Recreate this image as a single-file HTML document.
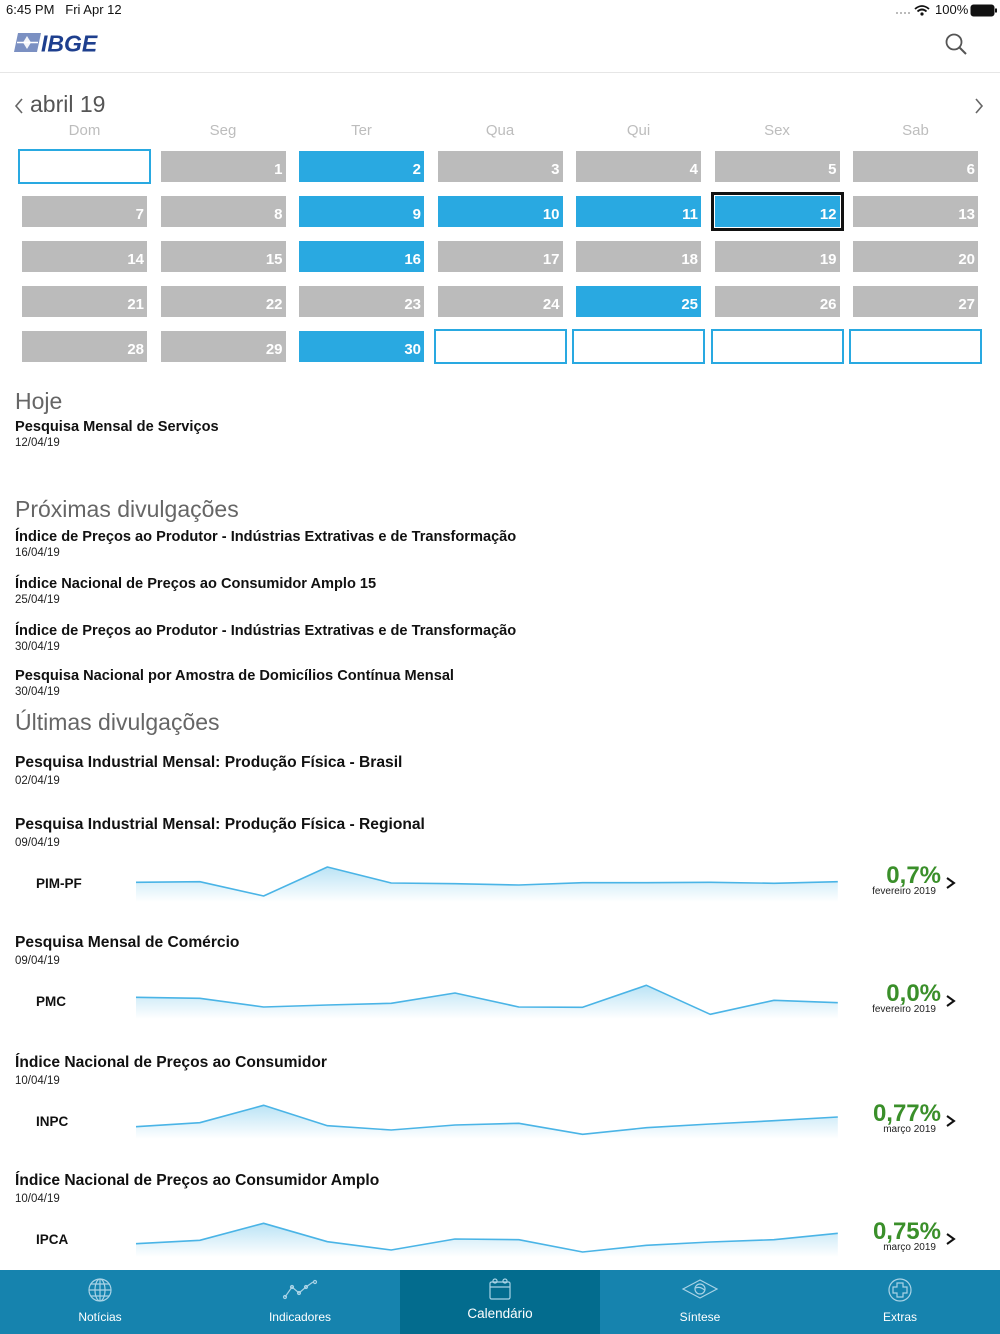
<!DOCTYPE html>
<html>
<head>
<meta charset="utf-8">
<style>
*{margin:0;padding:0;box-sizing:border-box;}
html,body{width:1000px;height:1334px;overflow:hidden;background:#fff;font-family:"Liberation Sans",Arial,sans-serif;}
.a{position:absolute;white-space:nowrap;}
.cell{position:absolute;width:125px;height:31px;background:#bbbbbb;color:#fff;font-weight:bold;font-size:15px;line-height:15px;display:flex;align-items:flex-end;justify-content:flex-end;padding:0 3px 5px 0;}
.cell.b{background:#29a9e1;}
.out{position:absolute;width:133px;height:35px;border:2px solid #29a9e1;background:#fff;}
.dn{position:absolute;width:125px;text-align:center;font-size:15px;line-height:15px;color:#bdbdbd;top:123px;}
.h{font-size:23px;line-height:23px;color:#666;left:15px;}
.t1{font-size:14.6px;line-height:15px;font-weight:bold;color:#111;left:15px;}
.t2{font-size:15.6px;line-height:16px;font-weight:bold;color:#111;left:15px;}
.d{font-size:11.5px;line-height:12px;color:#222;left:15px;}
.lbl{font-size:13.5px;line-height:14px;font-weight:bold;color:#111;left:36px;}
.val{font-size:24px;line-height:24px;font-weight:bold;color:#3a8f2a;right:59px;text-align:right;}
.sub{font-size:10px;line-height:10px;color:#222;right:64px;text-align:right;}
.tab{position:absolute;top:1270px;width:200px;height:64px;}
.tl{position:absolute;width:200px;text-align:center;color:#fff;font-size:12px;line-height:12px;top:41px;left:0;}
</style>
</head>
<body>
<!-- status bar -->
<div class="a" style="left:6px;top:3px;font-size:13px;line-height:14px;color:#111;">6:45 PM&nbsp;&nbsp;&nbsp;Fri Apr 12</div>
<div class="a" style="left:935px;top:3px;font-size:13px;line-height:14px;color:#111;">100%</div>
<svg class="a" style="left:890px;top:2px;" width="110" height="18" viewBox="890 2 110 18">
  <g fill="#bbb"><rect x="896" y="12" width="2" height="2"/><rect x="900" y="12" width="2" height="2"/><rect x="904" y="12" width="2" height="2"/><rect x="908" y="12" width="2" height="2"/></g>
  <path d="M915 9 Q922 3 929 9" stroke="#111" stroke-width="1.8" fill="none"/>
  <path d="M917.5 11.5 Q922 7.5 926.5 11.5" stroke="#111" stroke-width="1.8" fill="none"/>
  <circle cx="922" cy="14" r="1.6" fill="#111"/>
  <rect x="971" y="5" width="23" height="11" rx="2.5" fill="#111" stroke="#111" stroke-width="1"/>
  <rect x="995" y="8.5" width="2" height="4" fill="#111"/>
</svg>
<!-- logo -->
<svg class="a" style="left:12px;top:30px;" width="100" height="26" viewBox="12 30 100 26">
  <path d="M18 33 L41 33 L37 52 L14 52 Z" fill="#7b90c2"/>
  <path d="M27 36 L31 42.5 L27 49 L23 42.5 Z" fill="#fff" opacity="0.9"/>
  <path d="M17 42.5 L38 42.5" stroke="#fff" stroke-width="1.5"/>
  <text x="41" y="51.5" font-family="Liberation Sans, Arial, sans-serif" font-size="23" font-weight="bold" font-style="italic" fill="#1e3f8e">IBGE</text>
</svg>
<!-- search -->
<svg class="a" style="left:940px;top:30px;" width="32" height="30" viewBox="940 30 32 30">
  <circle cx="954" cy="42" r="7.5" stroke="#555" stroke-width="1.8" fill="none"/>
  <line x1="959.5" y1="47.5" x2="966" y2="54" stroke="#555" stroke-width="2"/>
</svg>
<div class="a" style="left:0;top:72px;width:1000px;height:1px;background:#e6e6e6;"></div>

<!-- month -->
<svg class="a" style="left:12px;top:96px;" width="14" height="20"><polyline points="10,3 4,10 10,17" stroke="#666" stroke-width="1.6" fill="none"/></svg>
<div class="a" style="left:30px;top:93px;font-size:23px;line-height:23px;color:#555;">abril 19</div>
<svg class="a" style="left:972px;top:96px;" width="14" height="20"><polyline points="4,3 10,10 4,17" stroke="#666" stroke-width="1.6" fill="none"/></svg>

<div class="dn" style="left:22px;">Dom</div>
<div class="dn" style="left:160.5px;">Seg</div>
<div class="dn" style="left:299px;">Ter</div>
<div class="dn" style="left:437.5px;">Qua</div>
<div class="dn" style="left:576px;">Qui</div>
<div class="dn" style="left:714.5px;">Sex</div>
<div class="dn" style="left:853px;">Sab</div>

<!-- row 1 -->
<div class="out" style="left:18px;top:149px;"></div>
<div class="cell" style="left:160.5px;top:151px;">1</div>
<div class="cell b" style="left:299px;top:151px;">2</div>
<div class="cell" style="left:437.5px;top:151px;">3</div>
<div class="cell" style="left:576px;top:151px;">4</div>
<div class="cell" style="left:714.5px;top:151px;">5</div>
<div class="cell" style="left:853px;top:151px;">6</div>
<!-- row 2 -->
<div class="cell" style="left:22px;top:196px;">7</div>
<div class="cell" style="left:160.5px;top:196px;">8</div>
<div class="cell b" style="left:299px;top:196px;">9</div>
<div class="cell b" style="left:437.5px;top:196px;">10</div>
<div class="cell b" style="left:576px;top:196px;">11</div>
<div class="a" style="left:711px;top:192px;width:133px;height:39px;border:3px solid #111;background:#fff;"></div>
<div class="cell b" style="left:714.5px;top:196px;">12</div>
<div class="cell" style="left:853px;top:196px;">13</div>
<!-- row 3 -->
<div class="cell" style="left:22px;top:241px;">14</div>
<div class="cell" style="left:160.5px;top:241px;">15</div>
<div class="cell b" style="left:299px;top:241px;">16</div>
<div class="cell" style="left:437.5px;top:241px;">17</div>
<div class="cell" style="left:576px;top:241px;">18</div>
<div class="cell" style="left:714.5px;top:241px;">19</div>
<div class="cell" style="left:853px;top:241px;">20</div>
<!-- row 4 -->
<div class="cell" style="left:22px;top:286px;">21</div>
<div class="cell" style="left:160.5px;top:286px;">22</div>
<div class="cell" style="left:299px;top:286px;">23</div>
<div class="cell" style="left:437.5px;top:286px;">24</div>
<div class="cell b" style="left:576px;top:286px;">25</div>
<div class="cell" style="left:714.5px;top:286px;">26</div>
<div class="cell" style="left:853px;top:286px;">27</div>
<!-- row 5 -->
<div class="cell" style="left:22px;top:331px;">28</div>
<div class="cell" style="left:160.5px;top:331px;">29</div>
<div class="cell b" style="left:299px;top:331px;">30</div>
<div class="out" style="left:433.5px;top:329px;"></div>
<div class="out" style="left:572px;top:329px;"></div>
<div class="out" style="left:710.5px;top:329px;"></div>
<div class="out" style="left:849px;top:329px;"></div>

<!-- Hoje -->
<div class="a h" style="top:389.5px;">Hoje</div>
<div class="a t1" style="top:419.5px;">Pesquisa Mensal de Serviços</div>
<div class="a d" style="top:437px;">12/04/19</div>

<div class="a h" style="top:497.5px;">Próximas divulgações</div>
<div class="a t1" style="top:529.5px;">Índice de Preços ao Produtor - Indústrias Extrativas e de Transformação</div>
<div class="a d" style="top:547px;">16/04/19</div>
<div class="a t1" style="top:576.5px;">Índice Nacional de Preços ao Consumidor Amplo 15</div>
<div class="a d" style="top:594px;">25/04/19</div>
<div class="a t1" style="top:623.5px;">Índice de Preços ao Produtor - Indústrias Extrativas e de Transformação</div>
<div class="a d" style="top:641px;">30/04/19</div>
<div class="a t1" style="top:668.5px;">Pesquisa Nacional por Amostra de Domicílios Contínua Mensal</div>
<div class="a d" style="top:686px;">30/04/19</div>

<div class="a h" style="top:711px;">Últimas divulgações</div>
<div class="a t2" style="top:755px;">Pesquisa Industrial Mensal: Produção Física - Brasil</div>
<div class="a d" style="top:775px;">02/04/19</div>
<div class="a t2" style="top:817px;">Pesquisa Industrial Mensal: Produção Física - Regional</div>
<div class="a d" style="top:837px;">09/04/19</div>
<div class="a lbl" style="top:877px;">PIM-PF</div>
<div class="a val" style="top:864px;">0,7%</div>
<div class="a sub" style="top:887px;">fevereiro 2019</div>

<div class="a t2" style="top:935px;">Pesquisa Mensal de Comércio</div>
<div class="a d" style="top:955px;">09/04/19</div>
<div class="a lbl" style="top:995px;">PMC</div>
<div class="a val" style="top:982px;">0,0%</div>
<div class="a sub" style="top:1005px;">fevereiro 2019</div>

<div class="a t2" style="top:1055px;">Índice Nacional de Preços ao Consumidor</div>
<div class="a d" style="top:1075px;">10/04/19</div>
<div class="a lbl" style="top:1115px;">INPC</div>
<div class="a val" style="top:1102px;">0,77%</div>
<div class="a sub" style="top:1125px;">março 2019</div>

<div class="a t2" style="top:1173px;">Índice Nacional de Preços ao Consumidor Amplo</div>
<div class="a d" style="top:1193px;">10/04/19</div>
<div class="a lbl" style="top:1233px;">IPCA</div>
<div class="a val" style="top:1220px;">0,75%</div>
<div class="a sub" style="top:1243px;">março 2019</div>

<!-- sparklines -->
<svg class="a" style="left:0;top:850px;" width="1000" height="420" viewBox="0 850 1000 420">
  <defs>
    <linearGradient id="g" x1="0" y1="0" x2="0" y2="1">
      <stop offset="0" stop-color="#29a8e0" stop-opacity="0.32"/>
      <stop offset="1" stop-color="#29a8e0" stop-opacity="0"/>
    </linearGradient>
  </defs>
  <g fill="url(#g)">
    <polygon points="136,882.3 199.8,881.7 263.6,896 327.4,867 391.2,883 455,883.7 518.8,885 582.6,882.7 646.4,882.7 710.2,882.3 774,883.3 837.8,881.7 837.8,902 136,902"/>
    <polygon points="136,997.3 199.8,998.3 263.6,1007 327.4,1005 391.2,1003.3 455,993 518.8,1007 582.6,1007.3 646.4,985.3 710.2,1014.3 774,1000.3 837.8,1002.7 837.8,1019 136,1019"/>
    <polygon points="136,1126.7 199.8,1122.7 263.6,1105.3 327.4,1125.7 391.2,1130 455,1125 518.8,1123.3 582.6,1134.3 646.4,1127.7 710.2,1124 774,1120.7 837.8,1117 837.8,1139 136,1139"/>
    <polygon points="136,1243.7 199.8,1240.3 263.6,1223.3 327.4,1241.7 391.2,1250 455,1239 518.8,1239.7 582.6,1252 646.4,1245.3 710.2,1242 774,1239.7 837.8,1233.3 837.8,1257 136,1257"/>
  </g>
  <g fill="none" stroke="#4ab4e6" stroke-width="1.6" stroke-linejoin="round">
    <polyline points="136,882.3 199.8,881.7 263.6,896 327.4,867 391.2,883 455,883.7 518.8,885 582.6,882.7 646.4,882.7 710.2,882.3 774,883.3 837.8,881.7"/>
    <polyline points="136,997.3 199.8,998.3 263.6,1007 327.4,1005 391.2,1003.3 455,993 518.8,1007 582.6,1007.3 646.4,985.3 710.2,1014.3 774,1000.3 837.8,1002.7"/>
    <polyline points="136,1126.7 199.8,1122.7 263.6,1105.3 327.4,1125.7 391.2,1130 455,1125 518.8,1123.3 582.6,1134.3 646.4,1127.7 710.2,1124 774,1120.7 837.8,1117"/>
    <polyline points="136,1243.7 199.8,1240.3 263.6,1223.3 327.4,1241.7 391.2,1250 455,1239 518.8,1239.7 582.6,1252 646.4,1245.3 710.2,1242 774,1239.7 837.8,1233.3"/>
  </g>
  <g fill="none" stroke="#111" stroke-width="2">
    <polyline points="947,878 954,883 947,888"/>
    <polyline points="947,996 954,1001 947,1006"/>
    <polyline points="947,1116 954,1121 947,1126"/>
    <polyline points="947,1234 954,1239 947,1244"/>
  </g>
</svg>

<!-- tab bar -->
<div class="a" style="left:0;top:1270px;width:1000px;height:64px;background:#1683ae;"></div>
<div class="tab" style="left:400px;background:#036c8e;"></div>
<div class="tab" style="left:0;"><div class="tl">Notícias</div></div>
<div class="tab" style="left:200px;"><div class="tl">Indicadores</div></div>
<div class="tab" style="left:400px;"><div class="tl" style="font-size:13.5px;line-height:14px;top:37px;">Calendário</div></div>
<div class="tab" style="left:600px;"><div class="tl">Síntese</div></div>
<div class="tab" style="left:800px;"><div class="tl">Extras</div></div>
<svg class="a" style="left:0;top:1270px;" width="1000" height="40" viewBox="0 1270 1000 40">
  <g fill="none" stroke="#a9d3e6" stroke-width="1.2">
    <circle cx="100" cy="1290" r="11"/>
    <ellipse cx="100" cy="1290" rx="5" ry="11"/>
    <line x1="89" y1="1290" x2="111" y2="1290"/>
    <line x1="91" y1="1284" x2="109" y2="1284"/>
    <line x1="91" y1="1296" x2="109" y2="1296"/>
    <line x1="100" y1="1279" x2="100" y2="1301"/>
    <polyline points="285,1297 292,1287 299,1293 306,1287 313,1282"/>
    <circle cx="285" cy="1297" r="1.5"/><circle cx="292" cy="1287" r="1.5"/><circle cx="299" cy="1293" r="1.5"/><circle cx="306" cy="1287" r="1.5"/><circle cx="315" cy="1282" r="1.5"/>
    <rect x="490" y="1282" width="20" height="17" rx="1.5"/>
    <line x1="490" y1="1287" x2="510" y2="1287"/>
    <circle cx="495" cy="1281" r="2"/><circle cx="505" cy="1281" r="2"/>
    <path d="M683 1289 L700 1280 L717 1289 L700 1298 Z"/>
    <circle cx="700" cy="1289" r="5"/>
    <path d="M695.5 1288 Q700 1286 704.5 1290"/>
    <circle cx="900" cy="1290" r="11"/>
    <path d="M897 1283 h6 v4 h4 v6 h-4 v4 h-6 v-4 h-4 v-6 h4 z"/>
  </g>
</svg>
</body>
</html>
